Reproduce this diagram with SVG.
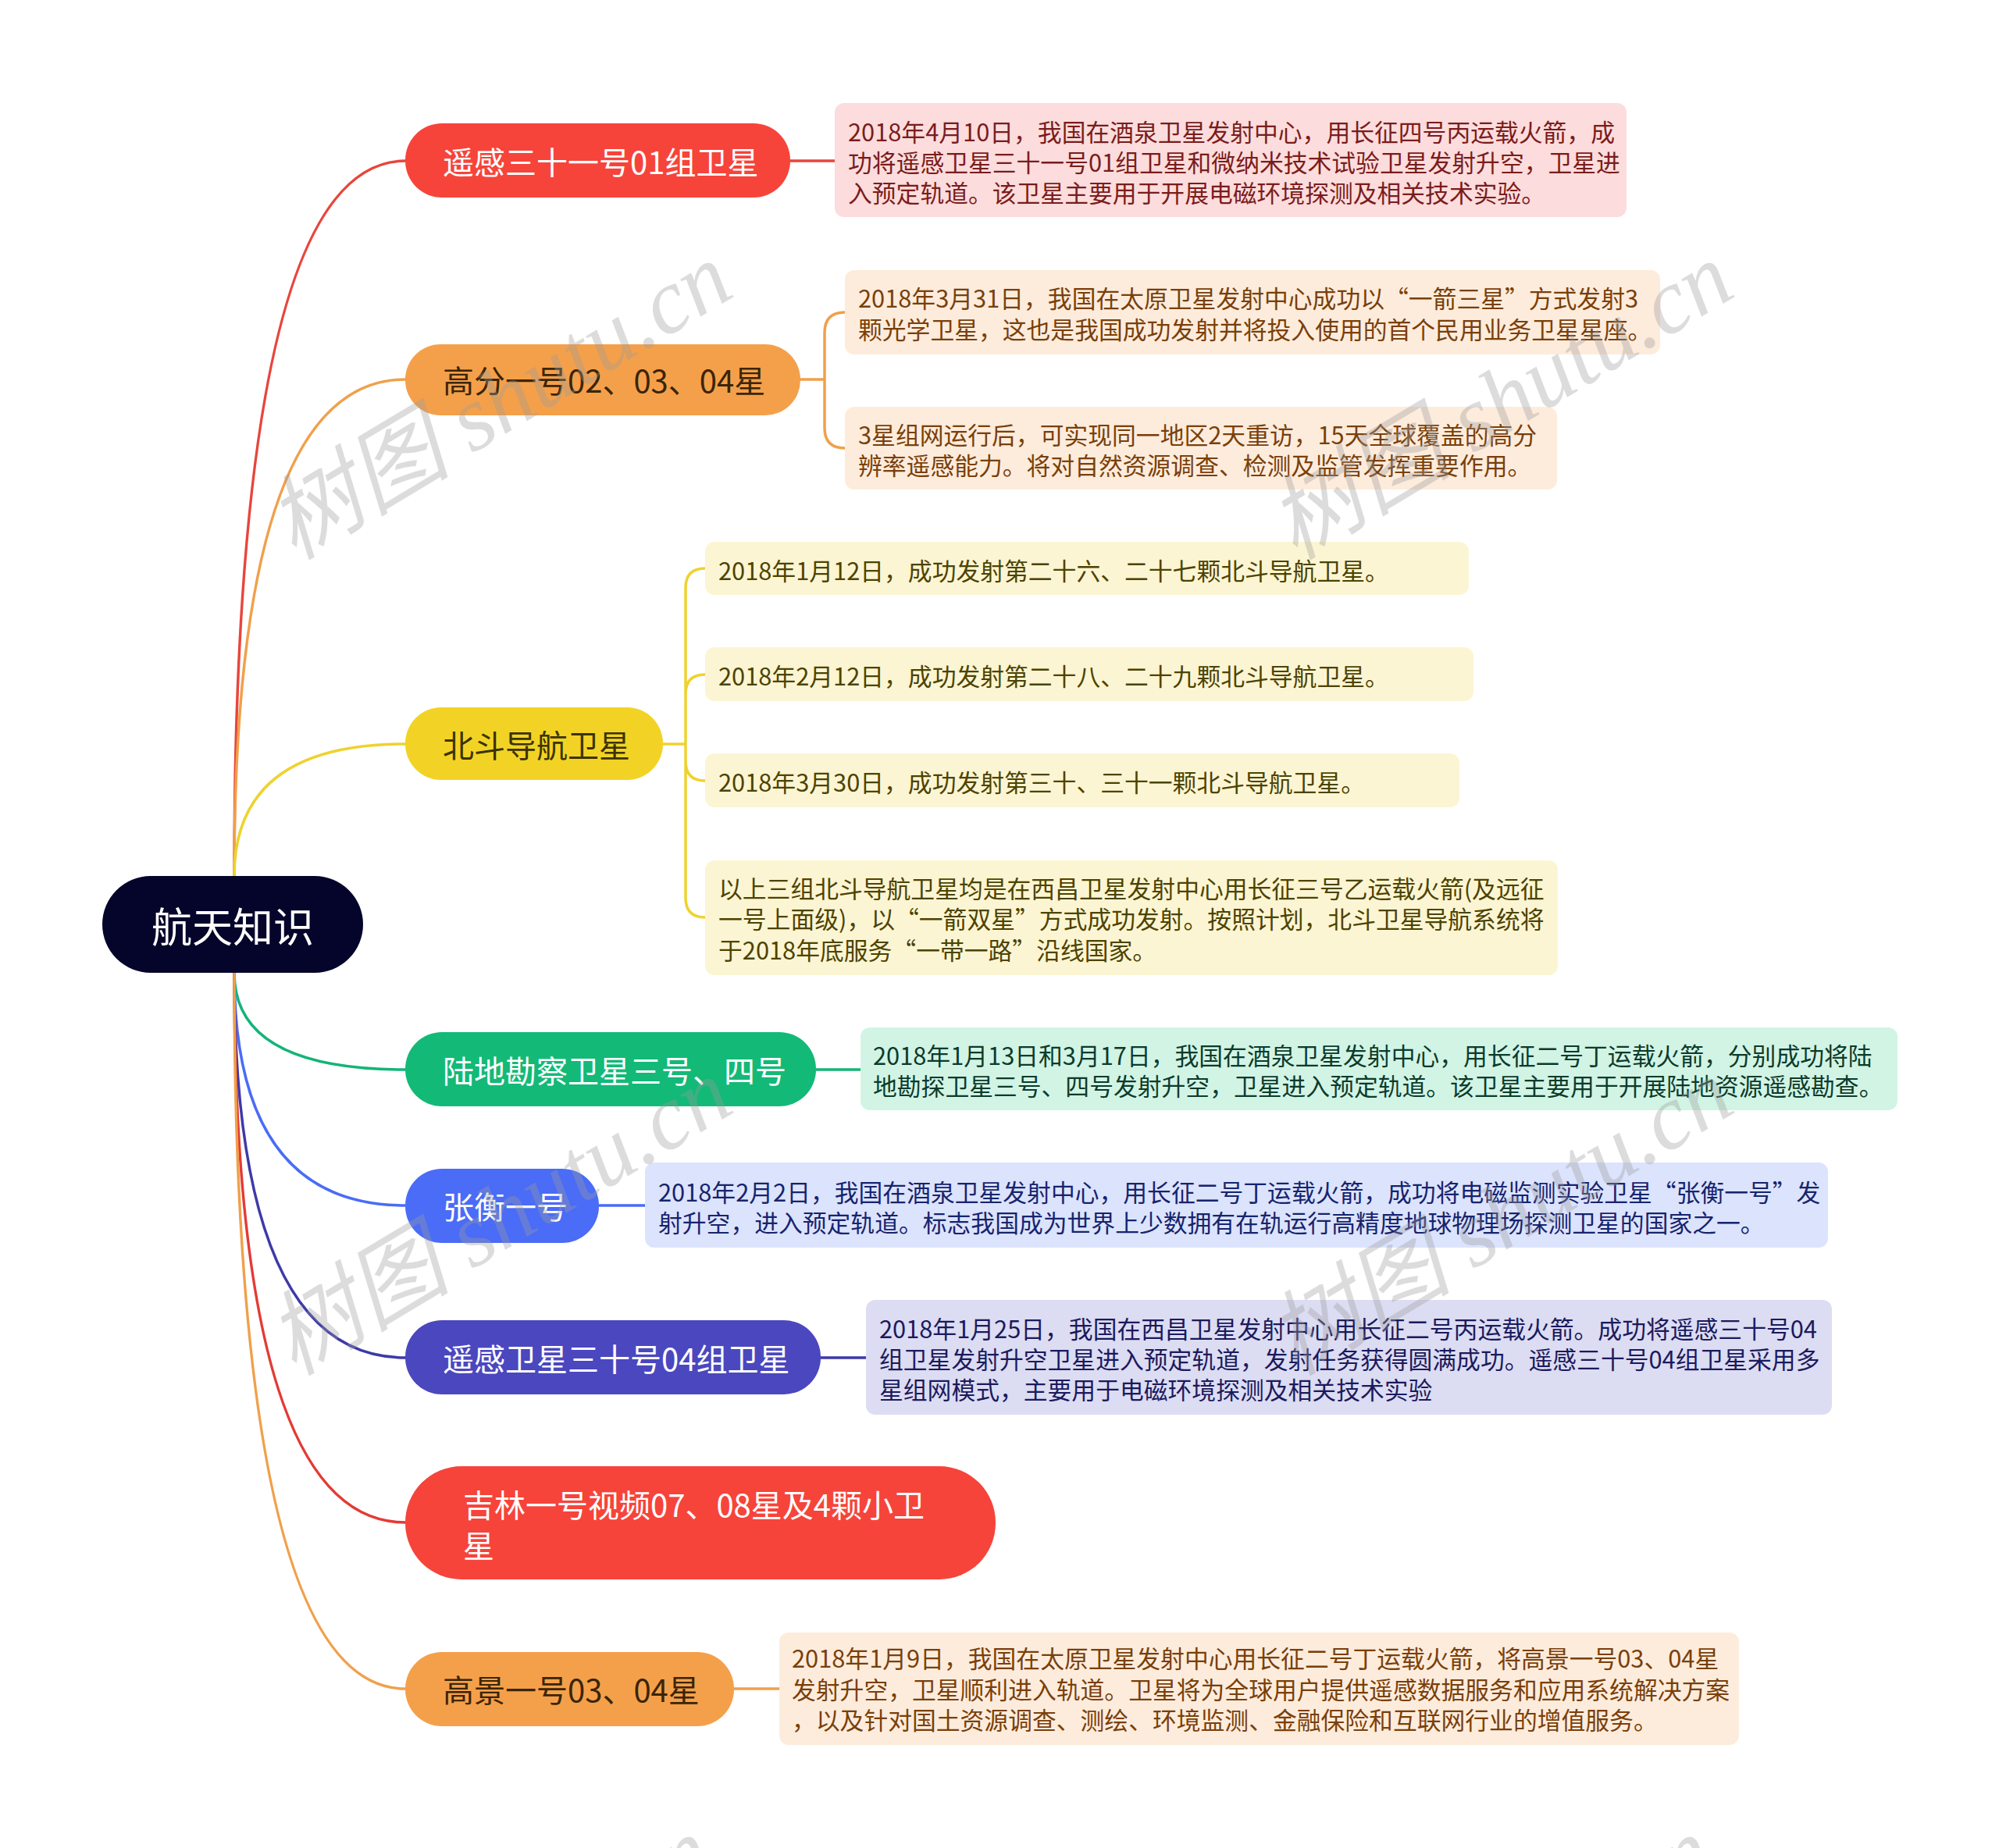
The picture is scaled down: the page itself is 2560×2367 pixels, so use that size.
<svg xmlns="http://www.w3.org/2000/svg" width="2560" height="2367" viewBox="0 0 2560 2367">
<style>
text{font-family:"Noto Sans CJK SC","Noto Sans",sans-serif}
.conn path{fill:none;stroke-width:3.5;stroke-linecap:round}
.bt{font-size:40px;dominant-baseline:central}
.dt{font-size:30.8px;dominant-baseline:central}
.wm{font-family:"Liberation Serif","Noto Sans CJK SC",serif;font-style:italic;font-size:118px;fill:#9a9a9a;fill-opacity:0.35}
</style>
<rect width="2560" height="2367" fill="#ffffff"/>
<g class="conn" id="connectors">
<path d="M300 1122 Q300 206 519 206" stroke="#e8453c"/>
<path d="M300 1122 Q300 486 519 486" stroke="#f0a04b"/>
<path d="M300 1122 Q300 953 519 953" stroke="#efd22e"/>
<path d="M300 1246 Q300 1370 519 1370" stroke="#14b478"/>
<path d="M300 1246 Q300 1544 519 1544" stroke="#4a6cf7"/>
<path d="M300 1246 Q300 1739 519 1739" stroke="#3e3aa8"/>
<path d="M300 1246 Q300 1950 519 1950" stroke="#e33b35"/>
<path d="M300 1246 Q300 2163 519 2163" stroke="#f0a04b"/>
<path d="M1012 206 H1069" stroke="#e8453c"/>
<path d="M1025 486 H1056 M1056 486 V426 Q1056 400 1082 400 M1056 486 V548 Q1056 574 1082 574" stroke="#f0a04b"/>
<path d="M849 953 H878 M878 953 V753 Q878 728 903 728 M878 953 V889 Q878 864 903 864 M878 953 V975 Q878 1000 903 1000 M878 953 V1150 Q878 1175 903 1175" stroke="#efd22e"/>
<path d="M1045 1370 H1102" stroke="#14b478"/>
<path d="M767 1544 H826" stroke="#4a6cf7"/>
<path d="M1051 1739 H1109" stroke="#3e3aa8"/>
<path d="M940 2163 H998" stroke="#f0a04b"/>
</g>
<g id="root">
<rect x="131" y="1122" width="334" height="124" rx="62" fill="#05052b"/>
<text x="298" y="1184" font-size="52" fill="#ffffff" text-anchor="middle" dominant-baseline="central">航天知识</text>
</g>
<g id="b1">
<rect x="519" y="158" width="493" height="95" rx="47" fill="#f6443b"/>
<text class="bt" x="567" y="206" fill="#ffffff">遥感三十一号01组卫星</text>
</g>
<g id="d1">
<rect x="1069" y="132" width="1014" height="146" rx="12" fill="#fcdcdc"/>
<text class="dt" fill="#7a1c1c"><tspan x="1086" y="167">2018年4月10日，我国在酒泉卫星发射中心，用长征四号丙运载火箭，成</tspan><tspan x="1086" y="206">功将遥感卫星三十一号01组卫星和微纳米技术试验卫星发射升空，卫星进</tspan><tspan x="1086" y="245">入预定轨道。该卫星主要用于开展电磁环境探测及相关技术实验。</tspan></text>
</g>
<g id="b2">
<rect x="519" y="441" width="506" height="91" rx="45" fill="#f4a04b"/>
<text class="bt" x="567" y="486" fill="#3b2507">高分一号02、03、04星</text>
</g>
<g id="d2a">
<rect x="1082" y="346" width="1044" height="108" rx="12" fill="#fdecdc"/>
<text class="dt" fill="#7a3f0a"><tspan x="1099" y="380">2018年3月31日，我国在太原卫星发射中心成功以“一箭三星”方式发射3</tspan><tspan x="1099" y="420">颗光学卫星，这也是我国成功发射并将投入使用的首个民用业务卫星星座。</tspan></text>
</g>
<g id="d2b">
<rect x="1082" y="521" width="912" height="106" rx="12" fill="#fdecdc"/>
<text class="dt" fill="#7a3f0a"><tspan x="1099" y="555">3星组网运行后，可实现同一地区2天重访，15天全球覆盖的高分</tspan><tspan x="1099" y="594">辨率遥感能力。将对自然资源调查、检测及监管发挥重要作用。</tspan></text>
</g>
<g id="b3">
<rect x="519" y="906" width="330" height="93" rx="46" fill="#f2d325"/>
<text class="bt" x="567" y="953" fill="#3b3300">北斗导航卫星</text>
</g>
<g id="d3a">
<rect x="903" y="694" width="978" height="68" rx="12" fill="#fcf5d3"/>
<text class="dt" x="920" y="729" fill="#4d4300">2018年1月12日，成功发射第二十六、二十七颗北斗导航卫星。</text>
</g>
<g id="d3b">
<rect x="903" y="829" width="984" height="69" rx="12" fill="#fcf5d3"/>
<text class="dt" x="920" y="864" fill="#4d4300">2018年2月12日，成功发射第二十八、二十九颗北斗导航卫星。</text>
</g>
<g id="d3c">
<rect x="903" y="965" width="966" height="69" rx="12" fill="#fcf5d3"/>
<text class="dt" x="920" y="1000" fill="#4d4300">2018年3月30日，成功发射第三十、三十一颗北斗导航卫星。</text>
</g>
<g id="d3d">
<rect x="903" y="1102" width="1092" height="147" rx="12" fill="#fcf5d3"/>
<text class="dt" fill="#4d4300"><tspan x="920" y="1136">以上三组北斗导航卫星均是在西昌卫星发射中心用长征三号乙运载火箭(及远征</tspan><tspan x="920" y="1175">一号上面级)，以“一箭双星”方式成功发射。按照计划，北斗卫星导航系统将</tspan><tspan x="920" y="1215">于2018年底服务“一带一路”沿线国家。</tspan></text>
</g>
<g id="b4">
<rect x="519" y="1322" width="526" height="95" rx="47" fill="#13b977"/>
<text class="bt" x="567" y="1370" fill="#ffffff">陆地勘察卫星三号、四号</text>
</g>
<g id="d4">
<rect x="1102" y="1316" width="1328" height="106" rx="12" fill="#d2f4e5"/>
<text class="dt" fill="#0b3b2b"><tspan x="1118" y="1350">2018年1月13日和3月17日，我国在酒泉卫星发射中心，用长征二号丁运载火箭，分别成功将陆</tspan><tspan x="1118" y="1389">地勘探卫星三号、四号发射升空，卫星进入预定轨道。该卫星主要用于开展陆地资源遥感勘查。</tspan></text>
</g>
<g id="b5">
<rect x="519" y="1497" width="248" height="95" rx="47" fill="#4a6cf7"/>
<text class="bt" x="567" y="1544" fill="#ffffff">张衡一号</text>
</g>
<g id="d5">
<rect x="826" y="1489" width="1515" height="109" rx="12" fill="#dce3fd"/>
<text class="dt" fill="#16246e"><tspan x="843" y="1525">2018年2月2日，我国在酒泉卫星发射中心，用长征二号丁运载火箭，成功将电磁监测实验卫星“张衡一号”发</tspan><tspan x="843" y="1564">射升空，进入预定轨道。标志我国成为世界上少数拥有在轨运行高精度地球物理场探测卫星的国家之一。</tspan></text>
</g>
<g id="b6">
<rect x="519" y="1691" width="532" height="95" rx="47" fill="#4b47bf"/>
<text class="bt" x="567" y="1739" fill="#ffffff">遥感卫星三十号04组卫星</text>
</g>
<g id="d6">
<rect x="1109" y="1665" width="1237" height="147" rx="12" fill="#dcdcf3"/>
<text class="dt" fill="#1b1a5c"><tspan x="1126" y="1700">2018年1月25日，我国在西昌卫星发射中心用长征二号丙运载火箭。成功将遥感三十号04</tspan><tspan x="1126" y="1739">组卫星发射升空卫星进入预定轨道，发射任务获得圆满成功。遥感三十号04组卫星采用多</tspan><tspan x="1126" y="1778">星组网模式，主要用于电磁环境探测及相关技术实验</tspan></text>
</g>
<g id="b7">
<rect x="519" y="1878" width="756" height="145" rx="72" fill="#f6443b"/>
<text class="bt" x="593" y="1926" fill="#ffffff">吉林一号视频07、08星及4颗小卫</text>
<text class="bt" x="593" y="1978" fill="#ffffff">星</text>
</g>
<g id="b8">
<rect x="519" y="2116" width="421" height="95" rx="47" fill="#f4a04b"/>
<text class="bt" x="567" y="2163" fill="#3b2507">高景一号03、04星</text>
</g>
<g id="d8">
<rect x="998" y="2091" width="1229" height="144" rx="12" fill="#fdecdc"/>
<text class="dt" fill="#7a3f0a"><tspan x="1014" y="2122">2018年1月9日，我国在太原卫星发射中心用长征二号丁运载火箭，将高景一号03、04星</tspan><tspan x="1014" y="2162">发射升空，卫星顺利进入轨道。卫星将为全球用户提供遥感数据服务和应用系统解决方案</tspan><tspan x="1014" y="2201">，以及针对国土资源调查、测绘、环境监测、金融保险和互联网行业的增值服务。</tspan></text>
</g>
<g id="watermarks">
<text class="wm" text-anchor="middle" dominant-baseline="central" transform="translate(640 514) rotate(-31)">树图 shutu.cn</text>
<text class="wm" text-anchor="middle" dominant-baseline="central" transform="translate(1922 514) rotate(-31)">树图 shutu.cn</text>
<text class="wm" text-anchor="middle" dominant-baseline="central" transform="translate(640 1559) rotate(-31)">树图 shutu.cn</text>
<text class="wm" text-anchor="middle" dominant-baseline="central" transform="translate(1922 1559) rotate(-31)">树图 shutu.cn</text>
<text class="wm" text-anchor="middle" dominant-baseline="central" transform="translate(615 2530) rotate(-31)">树图 shutu.cn</text>
<text class="wm" text-anchor="middle" dominant-baseline="central" transform="translate(1897 2530) rotate(-31)">树图 shutu.cn</text>
</g>
</svg>
